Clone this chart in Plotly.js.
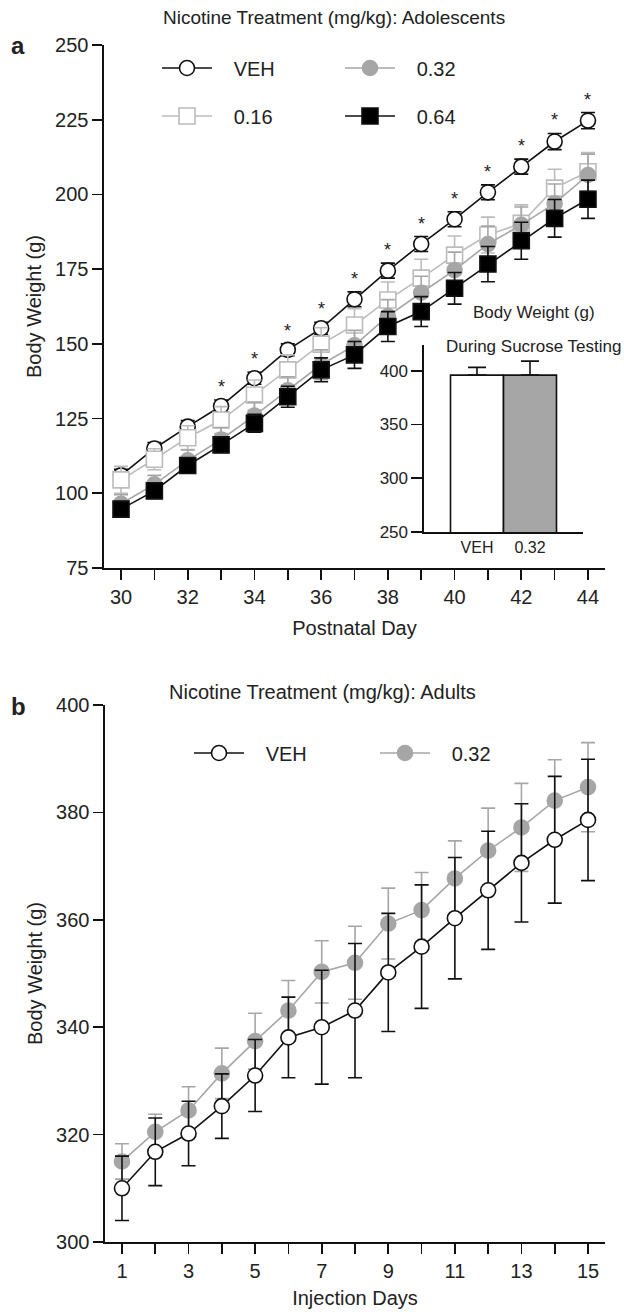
<!DOCTYPE html>
<html><head><meta charset="utf-8">
<script src="https://cdn.plot.ly/plotly-3.0.1.min.js"></script>
<style>html,body{margin:0;padding:0;background:#fff}</style>
</head><body><div id="chart" style="width:624px;height:1312px"></div>
<script>
// ---- Panel a: adolescents ----
const adolDays = [30,31,32,33,34,35,36,37,38,39,40,41,42,43,44];
const vehA     = [106,115,122.3,129.2,138.5,148,155.2,164.9,174.5,183.4,191.7,200.7,209.3,217.7,224.7];
const vehASem  = [2,2,2,2,2,2,2,2.5,2.5,2.5,2.5,2.5,2.5,2.7,2.7];
const d016     = [104.5,111.4,118.6,124.5,132.9,141.3,149.9,156.3,164.7,172,179.7,186.4,190.3,202.1,207.6];
const d016Sem  = [4.5,3.5,4,4.5,5,5,5.5,5.5,6,6.3,6.4,6,6.2,6.3,6.4];
const d032     = [96.5,103,111,118,126,134.5,143,149.5,159.3,167.1,174.7,183.4,189.8,197,206.5];
const d032Sem  = [3,3,3.5,4,4.5,4.5,5,5,5.5,5.5,6,6,6,6.5,7];
const d064     = [94.7,100.8,109.3,116.2,123.4,132.3,141.3,146.3,155.8,160.8,168.6,176.7,184.5,192,198.4];
const d064Sem  = [2.5,2.5,2.5,2.5,3,3.5,4,4.5,5,5,5.3,5.9,6.2,6.3,6.4];
const sigDays  = [33,34,35,36,37,38,39,40,41,42,43,44];

// ---- Inset: sucrose testing ----
const insetGroups = ['VEH','0.32'];
const insetVals   = [396,396];
const insetSem    = [7.2,13];

// ---- Panel b: adults ----
const injDays  = [1,2,3,4,5,6,7,8,9,10,11,12,13,14,15];
const vehB     = [310,316.8,320.2,325.3,331,338.1,340,343.1,350.2,355,360.3,365.5,370.6,374.9,378.6];
const vehBSem  = [6,6.3,6,6,6.7,7.5,10.6,12.5,11,11.5,11.3,11,11,11.8,11.3];
const d032B    = [315,320.5,324.5,331.4,337.4,343.1,350.3,352,359.3,361.8,367.7,372.9,377.2,382.2,384.7];
const d032BSem = [3.3,3.3,4.4,4.7,5.2,5.6,5.8,6.8,6.6,7,7,7.9,8.2,7.6,8.3];

const W = 624, H = 1312;
const px = v => v / W;
const py = v => 1 - v / H;
const FONT = 'Liberation Sans, Arial, Helvetica, sans-serif';
const TXT = '#222';
const GRAY = '#a6a6a6', LGRAY = '#bcbcbc';
const GAP = '\u00a0\u00a0\u00a0';

function series(x, y, sem, name, sym, fill, lineCol, errCol, size, xa, ya, leg) {
  return {
    type: 'scatter', mode: 'lines+markers', x: x, y: y, name: GAP + name,
    xaxis: xa, yaxis: ya, legend: leg, showlegend: true,
    line: {color: lineCol, width: 1.6},
    marker: {symbol: sym, size: size, color: fill, line: {color: lineCol, width: 1.6}},
    error_y: {type: 'data', array: sem, visible: true, color: errCol, thickness: 1.6, width: 7},
    cliponaxis: false
  };
}

const traces = [
  series(adolDays, vehA, vehASem, 'VEH', 'circle', '#ffffff', '#111', '#111', 15, 'x', 'y', 'legend'),
  series(adolDays, d016, d016Sem, '0.16', 'square', '#ffffff', LGRAY, LGRAY, 16, 'x', 'y', 'legend2'),
  series(adolDays, d032, d032Sem, '0.32', 'circle', GRAY, GRAY, GRAY, 15, 'x', 'y', 'legend3'),
  series(adolDays, d064, d064Sem, '0.64', 'square', '#000', '#111', '#111', 16, 'x', 'y', 'legend4'),
  {
    type: 'bar', x: insetGroups, y: insetVals, xaxis: 'x2', yaxis: 'y2', showlegend: false,
    marker: {color: ['#ffffff', GRAY], line: {color: '#111', width: 1.6}},
    error_y: {type: 'data', symmetric: false, array: insetSem, arrayminus: [0,0], color: '#111', thickness: 1.6, width: 9}
  },
  series(injDays, d032B, d032BSem, '0.32', 'circle', GRAY, GRAY, GRAY, 15, 'x3', 'y3', 'legend6'),
  series(injDays, vehB, vehBSem, 'VEH', 'circle', '#ffffff', '#111', '#111', 15, 'x3', 'y3', 'legend5')
];

const axisBase = {
  showline: true, linecolor: '#111', linewidth: 1.6, showgrid: false, zeroline: false,
  ticks: 'outside', ticklen: 10, tickwidth: 1.6, tickcolor: '#111',
  tickfont: {family: FONT, size: 20, color: TXT}
};

const annotations = [];
const vehAt = d => { const i = adolDays.indexOf(d); return vehA[i] + vehASem[i]; };
sigDays.forEach(d => annotations.push({
  x: d, y: vehAt(d), xref: 'x', yref: 'y', text: '*', showarrow: false,
  yanchor: 'bottom', yshift: 1, font: {family: FONT, size: 18, color: TXT}
}));
function label(text, x, y, size, opts) {
  return Object.assign({xref: 'paper', yref: 'paper', x: px(x), y: py(y), text: text, showarrow: false,
    xanchor: 'center', yanchor: 'middle', font: {family: FONT, size: size, color: TXT}}, opts || {});
}
annotations.push(label('Nicotine Treatment (mg/kg): Adolescents', 334, 18, 19));
annotations.push(label('<b>a</b>', 18, 46, 24));
annotations.push(label('Body Weight (g)', 534, 312, 17));
annotations.push(label('During Sucrose Testing', 533, 347, 17));
annotations.push(label('Nicotine Treatment (mg/kg): Adults', 322, 692, 20));
annotations.push(label('<b>b</b>', 18, 707, 24));

function leg(x, y) {
  return {x: px(x), y: py(y), xanchor: 'left', yanchor: 'middle', bgcolor: 'rgba(0,0,0,0)',
    font: {family: FONT, size: 20, color: TXT}, itemwidth: 50, orientation: 'v'};
}

const layout = {
  width: W, height: H, margin: {l: 0, r: 0, t: 0, b: 0},
  paper_bgcolor: '#fff', plot_bgcolor: 'rgba(0,0,0,0)',
  font: {family: FONT, color: TXT},
  bargap: 0,
  xaxis: Object.assign({}, axisBase, {
    domain: [px(104), px(605)], range: [29.49, 44.51], anchor: 'y',
    tick0: 30, dtick: 2,
    minor: {dtick: 1, tick0: 30, ticks: 'outside', ticklen: 10, tickwidth: 1.6, tickcolor: '#111', showgrid: false},
    title: {text: 'Postnatal Day', font: {family: FONT, size: 20, color: TXT}, standoff: 14}
  }),
  yaxis: Object.assign({}, axisBase, {
    domain: [py(568), py(45)], range: [75, 250], anchor: 'x', tick0: 75, dtick: 25,
    title: {text: 'Body Weight (g)', font: {family: FONT, size: 20, color: TXT}, standoff: 8}
  }),
  xaxis2: Object.assign({}, axisBase, {
    domain: [px(424), px(583)], range: [-1, 2], anchor: 'y2', type: 'category', ticks: '',
    tickfont: {family: FONT, size: 16, color: TXT}
  }),
  yaxis2: Object.assign({}, axisBase, {
    domain: [py(532), py(345)], range: [250, 424], anchor: 'x2', tickvals: [250, 300, 350, 400],
    ticklen: 11, tickfont: {family: FONT, size: 17, color: TXT}
  }),
  xaxis3: Object.assign({}, axisBase, {
    domain: [px(105), px(605)], range: [0.49, 15.51], anchor: 'y3',
    tick0: 1, dtick: 2,
    minor: {dtick: 1, tick0: 1, ticks: 'outside', ticklen: 10, tickwidth: 1.6, tickcolor: '#111', showgrid: false},
    title: {text: 'Injection Days', font: {family: FONT, size: 20, color: TXT}, standoff: 10}
  }),
  yaxis3: Object.assign({}, axisBase, {
    domain: [py(1242), py(705)], range: [300, 400], anchor: 'x3', tick0: 300, dtick: 20,
    title: {text: 'Body Weight (g)', font: {family: FONT, size: 20, color: TXT}, standoff: 8}
  }),
  legend: leg(157, 68),
  legend2: leg(157, 116),
  legend3: leg(340, 68),
  legend4: leg(340, 116),
  legend5: leg(189, 753),
  legend6: leg(375, 753),
  annotations: annotations
};

Plotly.newPlot('chart', traces, layout, {displayModeBar: false, staticPlot: true});
</script></body></html>
